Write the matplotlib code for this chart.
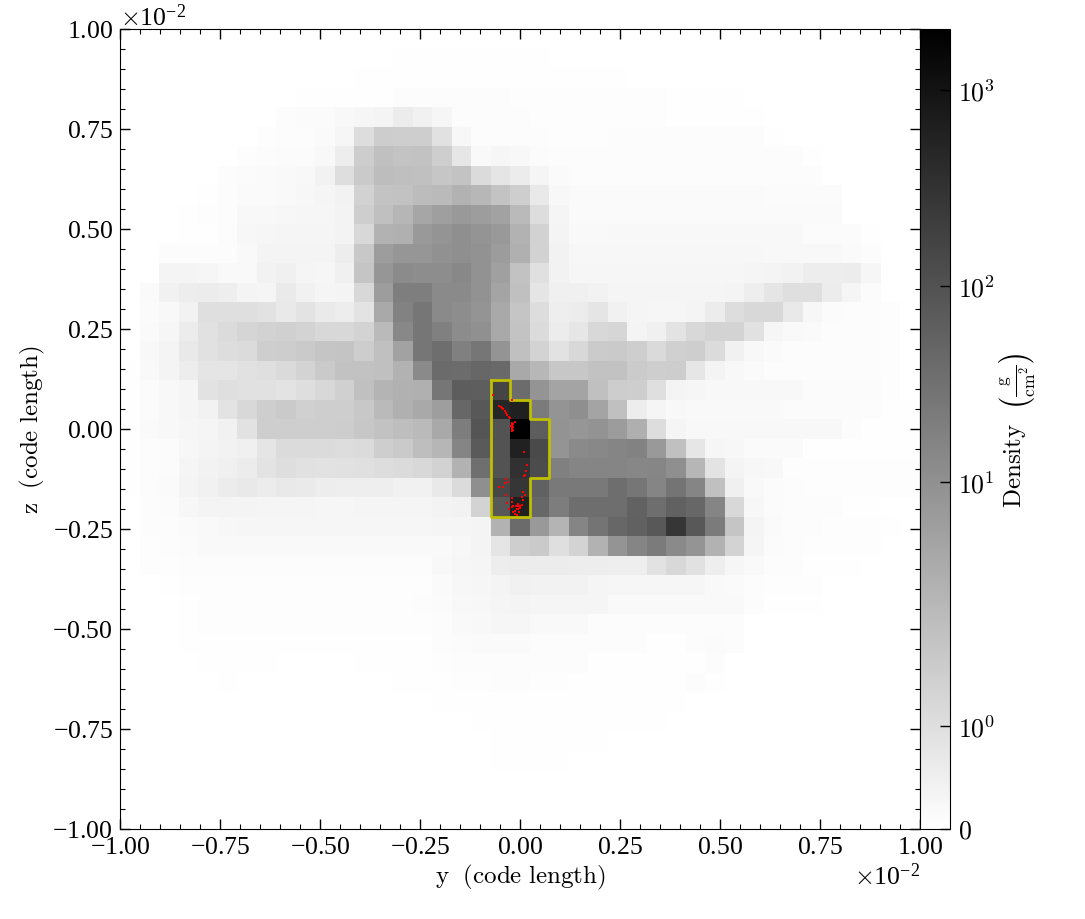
"""Projected gas density slice with a selected clump outline and sink particles."""

import numpy as np
import matplotlib
matplotlib.use("Agg")
import matplotlib.pyplot as plt
from matplotlib.colors import SymLogNorm
from matplotlib.ticker import FixedLocator, ScalarFormatter

plt.rcParams["font.family"] = ["Liberation Serif", "DejaVu Serif"]
plt.rcParams["mathtext.fontset"] = "cm"
plt.rcParams["axes.formatter.use_mathtext"] = True

# density per cell (g/cm^2), rows from z=+1 down to z=-1, columns from y=-1 to y=+1
density_rows = [
    [0,0,0,0,0,0,0,0,0,0,0,0,0,0,0,0,0,.02,.02,.02,.02,.02,0,0,0,0,0,0,0,0,0,0,0,0,0,0,0,0,0,0,0],
    [0,0,0,0,0,0,0,0,0,0,0,0,0,0,.04,.04,.04,.04,.04,.04,.04,.04,.03,.03,.03,.03,0,0,0,0,0,0,0,0,0,0,0,0,0,0,0],
    [0,0,0,0,0,0,0,0,0,0,0,0,.06,.06,.06,.06,.06,.06,.06,.06,.06,.06,.06,.06,.06,.06,.03,.03,.03,.03,0,0,0,0,0,0,0,0,0,0,0],
    [0,0,0,0,0,0,0,0,0,.06,.06,.06,.06,.06,.1,.1,.1,.1,.1,.1,.08,.08,.08,.08,.08,.08,.08,.08,.04,.04,.04,.04,0,0,0,0,0,0,0,0,0],
    [0,0,0,0,0,0,0,0,.12,.15,.15,.24,.28,.36,.6,.45,.28,.12,.1,.1,.1,.08,.08,.08,.08,.08,.08,.08,.06,.06,.06,.06,.04,0,0,0,0,0,0,0,0],
    [0,0,0,0,0,0,0,.08,.12,.12,.17,.28,1.04,1.54,1.51,1.51,.91,.26,.12,.12,.12,.1,.08,.08,.08,.1,.1,.1,.1,.1,.1,.1,.1,.04,0,0,0,0,0,0,0],
    [0,0,0,0,0,0,.08,.1,.15,.15,.24,.55,1.54,1.93,1.84,1.87,1.51,.76,.21,.28,.24,.15,.1,.1,.1,.1,.1,.1,.1,.1,.1,.1,.1,.1,.1,.04,0,0,0,0,0],
    [0,0,0,0,0,.1,.15,.17,.21,.24,.4,1.01,1.63,2.02,1.96,1.93,1.75,1.84,1.1,.8,.6,.31,.17,.12,.12,.12,.12,.12,.12,.12,.12,.12,.12,.12,.12,.12,0,0,0,0,0],
    [0,0,0,0,.06,.1,.17,.17,.21,.26,.33,.4,1.39,1.84,1.87,2.05,2.2,2.95,2.45,1.84,1.49,.68,.24,.17,.17,.17,.17,.17,.17,.17,.17,.17,.17,.15,.15,.15,.15,0,0,0,0],
    [0,0,0,.04,.08,.12,.24,.24,.26,.28,.28,.38,1.49,1.93,2.55,4.6,5.8,7.2,6.4,5.2,2.2,1.04,.31,.17,.17,.17,.17,.17,.17,.17,.17,.17,.17,.17,.17,.17,.17,0,0,0,0],
    [0,0,0,.04,.06,.12,.26,.28,.31,.31,.31,.38,1.19,2.95,3.15,7.2,8.6,10.4,8.6,7.2,2.95,1.39,.36,.21,.21,.24,.24,.24,.24,.24,.24,.24,.24,.24,.24,.15,.15,.15,.04,0,0],
    [0,0,.1,.12,.12,.1,.21,.36,.36,.36,.36,.55,1.69,6.4,8,8,9.6,10.4,9.3,6.6,3.15,1.39,.4,.26,.26,.26,.26,.26,.26,.26,.26,.26,.26,.24,.24,.24,.24,.17,.12,0,0],
    [0,0,.36,.36,.28,.21,.21,.4,.47,.31,.28,.47,1.78,8,12,11.2,11.2,13.4,9.3,5.6,1.85,.95,.4,.28,.28,.28,.28,.28,.28,.28,.28,.28,.33,.36,.4,.55,.55,.6,.28,0,0],
    [0,.17,.45,.55,.6,.52,.36,.33,.64,.45,.33,.36,1.19,6.4,19.4,19.4,12.5,12.5,9.3,4.8,1.93,.8,.47,.47,.4,.33,.33,.33,.31,.31,.31,.36,.52,.8,.98,.98,.6,.31,.15,0,0],
    [0,.15,.24,.4,.98,.98,.98,.88,.68,.85,.64,.55,.85,4,16.7,26,12.5,11.2,8.6,4,1.76,1.04,.52,.6,.8,.45,.31,.28,.28,.36,.6,1.04,1.19,1.21,.68,.26,.15,.1,.1,.08,0],
    [0,.17,.28,.6,.91,1.1,1.28,1.39,1.45,1.34,1.21,1.21,1.34,2.2,13.4,26,18,11.6,10,4,1.84,1.1,.6,.76,1.19,1.25,.36,.47,.85,1.19,1.34,1.34,.91,.28,.21,.17,.1,.1,.1,.08,0],
    [0,.24,.36,.68,.91,1.04,1.1,1.49,1.54,1.63,1.78,1.81,1.54,1.93,5.2,26,35,18,26,8.6,1.93,1.34,.88,1.21,1.58,1.63,1.49,1.15,1.45,1.49,1.1,.45,.24,.17,.12,.12,.12,.12,.12,.08,0],
    [.06,.21,.36,.55,.8,.8,.91,.98,1.13,1.34,1.63,1.87,1.87,1.93,2.95,12.5,40,37.5,45,42,4,2.45,1.72,1.72,1.87,1.87,1.58,1.49,1.54,.76,.36,.24,.17,.12,.12,.12,.12,.12,.12,.08,0],
    [.06,.15,.24,.33,.88,.98,.91,.91,.85,1.01,1.19,1.45,1.93,2.75,3.05,3.15,26,65,63,162,37.5,8.6,4.8,4.8,1.93,1.54,1.49,.98,.36,.28,.24,.24,.24,.24,.24,.15,.15,.15,.15,.08,0],
    [.06,.15,.24,.31,.4,.85,1.21,1.51,1.63,1.45,1.49,1.51,1.69,2.2,3.15,4,6,45,78,490,630,21.6,8.6,10.4,4.8,1.93,.55,.31,.24,.21,.21,.21,.21,.21,.15,.15,.15,.15,.1,.06,.06],
    [.06,.17,.24,.28,.33,.45,.88,1.51,1.51,1.49,1.49,1.54,1.72,1.87,1.99,2.2,4,20,90,94,2040,65,9,8,9,6.5,3.2,1.05,.31,.24,.24,.24,.24,.24,.24,.24,.24,.1,.04,.04,.04],
    [.06,.12,.15,.26,.36,.4,.47,.8,1.1,1.1,1.1,1.06,1.1,1.49,1.63,1.99,2.55,15,73,94,590,135,8.6,12.5,13.4,15,16.7,7.2,1.93,.76,.28,.26,.17,.17,.17,.06,.06,.06,.06,.06,.06],
    [.06,.1,.15,.33,.4,.47,.6,.85,1.01,.91,.88,.91,.95,1.04,1.1,1.19,1.39,2.95,34,94,338,121,18,15,15,15,14,14.5,10.4,2.55,.85,.36,.26,.24,.08,.08,.08,.08,.08,.08,.08],
    [.04,.1,.17,.36,.45,.6,.68,.6,.68,.64,.55,.52,.52,.52,.45,.43,.68,1.1,10.4,150,280,58,24,24,24,35,26,15,28,15,1.93,.47,.21,.15,.1,.08,.08,.08,.08,.08,.08],
    [0,.1,.15,.26,.36,.36,.36,.33,.31,.31,.28,.28,.33,.33,.33,.33,.38,.4,1.34,78,630,45,20,35,35,35,54,35,58,45,15,1.19,.26,.15,.1,.1,.1,.04,.04,.03,0],
    [0,.1,.12,.17,.21,.26,.28,.28,.28,.28,.28,.28,.28,.28,.28,.28,.31,.33,.36,2.95,40,7.2,2.75,15,28,45,58,78,281,78,21.6,1.78,.36,.17,.12,.12,.08,.08,.08,.06,0],
    [0,.08,.1,.15,.21,.21,.21,.21,.21,.21,.21,.21,.21,.21,.21,.21,.21,.26,.36,.8,1.49,1.63,.98,1.34,2.95,8.6,15,21.6,12.5,8.6,2.95,1.34,.33,.15,.1,.08,.08,.08,.08,.02,0],
    [0,.08,.08,.1,.11,.11,.11,.11,.11,.11,.11,.11,.11,.11,.11,.11,.24,.28,.31,.55,.6,.6,.6,.55,.55,.52,.52,.88,1.19,.91,.52,.28,.21,.12,.1,.04,.04,.04,0,0,0],
    [0,0,.06,.08,.08,.08,.08,.08,.08,.08,.08,.08,.08,.08,.08,.08,.17,.26,.28,.36,.43,.4,.4,.4,.33,.28,.28,.28,.28,.28,.21,.17,.12,.08,.08,.08,0,0,0,0,0],
    [0,0,0,.06,.07,.07,.07,.07,.07,.07,.07,.07,.07,.07,.07,.1,.15,.24,.26,.33,.36,.33,.33,.33,.33,.21,.21,.21,.21,.21,.21,.21,.1,.04,.04,.04,0,0,0,0,0],
    [0,0,0,.04,.08,.08,.08,.08,.08,.08,.08,.08,.08,.08,.08,.08,.12,.21,.24,.28,.28,.21,.21,.21,.12,.12,.12,.1,.1,.1,.1,.1,.02,0,0,0,0,0,0,0,0],
    [0,0,0,.04,.06,.06,.06,.05,.05,.05,.05,.05,.05,.05,.05,.05,.1,.15,.17,.17,.17,.12,.12,.12,.12,.12,.12,.06,.06,.1,.15,.12,0,0,0,0,0,0,0,0,0],
    [0,0,0,0,.04,.04,.04,.04,.02,.02,.02,.02,.04,.04,.04,.04,.08,.1,.12,.12,.12,.1,.1,.1,.06,.06,.06,.06,.06,.06,.1,0,0,0,0,0,0,0,0,0,0],
    [0,0,0,0,0,.06,.02,.02,.02,.02,.02,.02,.02,.02,.06,.06,.06,.08,.08,.1,.1,.08,.08,.06,.06,.06,.06,.06,.06,.1,.04,0,0,0,0,0,0,0,0,0,0],
    [0,0,0,0,0,0,0,0,0,0,0,0,0,0,0,.02,.04,.04,.04,.06,.06,.06,.06,.06,.06,.06,.06,.06,.06,0,0,0,0,0,0,0,0,0,0,0,0],
    [0,0,0,0,0,0,0,0,.02,.02,.02,.02,.02,.02,.02,.02,.02,.02,.06,.06,.06,.04,.04,.04,.04,.04,.04,.04,0,0,0,0,0,0,0,0,0,0,0,0,0],
    [0,0,0,0,0,0,0,0,0,0,.02,.02,.02,.02,.02,.02,.02,.02,.02,.04,.04,.06,.06,.06,.06,0,0,0,0,0,0,0,0,0,0,0,0,0,0,0,0],
    [0,0,0,0,0,0,0,0,0,0,0,0,0,0,0,0,0,0,0,.04,.04,.04,.04,0,0,0,0,0,0,0,0,0,0,0,0,0,0,0,0,0,0],
    [0,0,0,0,0,0,0,0,0,0,0,0,0,0,0,.02,.02,.02,.02,.02,.02,.02,0,0,0,0,0,0,0,0,0,0,0,0,0,0,0,0,0,0,0],
    [0,0,0,0,0,0,0,0,0,0,0,0,0,0,0,0,0,0,0,0,0,0,0,0,0,0,0,0,0,0,0,0,0,0,0,0,0,0,0,0,0],
    [0,0,0,0,0,0,0,0,0,0,0,0,0,0,0,0,0,0,0,0,0,0,0,0,0,0,0,0,0,0,0,0,0,0,0,0,0,0,0,0,0],
]

# clump outline, as indices into the cell edges
outline_cols = [19, 20, 20, 21, 21, 22, 22, 21, 21, 19, 19]
outline_rows = [18, 18, 19, 19, 20, 20, 23, 23, 25, 25, 18]

# sink particle positions (units of 1e-2)
particle_y = [-.068, -.020, -.052, -.048, -.045, -.042, -.038, -.035, -.032, -.028, -.025,
              -.021, -.021, -.021, -.021, -.021, -.018, -.018, -.018, -.023, -.0125,
              .011, .017, .015, .013, .010,
              -.035, -.038, -.029, -.042, -.052, -.035, .008, .0125, -.021, -.021, -.032,
              -.017, -.027, -.021, -.0125, -.008, -.004, 0, .004, .007, .004, -.018,
              -.0125, -.008, -.002, -.010, -.006, -.004, 0]
particle_z = [.086, .073, .058, .056, .053, .050, .045, .039, .035, .031, .027,
              .015, .010, .005, 0, -.005, .0125, .004, -.003, .008, .017,
              -.057, -.090, -.104, -.115, -.118,
              -.125, -.135, -.132, -.145, -.145, -.165, -.157, -.165, -.173, -.182, -.186,
              -.192, -.200, -.196, -.204, -.200, -.193, -.192, -.190, -.177, -.171, -.208,
              -.2125, -.215, -.207, -.193, -.1875, -.200, -.198]

cbar_ticks = [0, 1, 10, 100, 1000]
cbar_labels = ["$0$", "$10^{0}$", "$10^{1}$", "$10^{2}$", "$10^{3}$"]
tick_values = [-0.01, -0.0075, -0.005, -0.0025, 0, 0.0025, 0.005, 0.0075, 0.01]

density = np.array(density_rows, dtype=float)
y_edges = np.linspace(-0.01, 0.01, density.shape[1] + 1)
z_edges = np.linspace(0.01, -0.01, density.shape[0] + 1)

fig = plt.figure(figsize=(10.85, 9.2), dpi=100)
ax = fig.add_axes([120 / 1085, 1 - 830 / 920, 800 / 1085, 800 / 920])
cax = fig.add_axes([920 / 1085, 1 - 830 / 920, 30 / 1085, 800 / 920])

norm = SymLogNorm(linthresh=2.07, linscale=0.98, vmin=0, vmax=2047, base=10)
mesh = ax.pcolormesh(y_edges, z_edges, density, cmap="gray_r", norm=norm, linewidth=0, rasterized=True)

ax.plot(y_edges[outline_cols], z_edges[outline_rows], color="y", lw=2.0, solid_joinstyle="round")
ax.scatter(np.array(particle_y) * 0.01, np.array(particle_z) * 0.01, s=4, c="red", marker="s", linewidths=0, zorder=3)

ax.set_xlim(-0.01, 0.01)
ax.set_ylim(-0.01, 0.01)
ax.xaxis.set_major_locator(FixedLocator(tick_values))
ax.yaxis.set_major_locator(FixedLocator(tick_values))
ax.xaxis.set_minor_locator(FixedLocator(np.arange(-20, 21) * 0.0005))
ax.yaxis.set_minor_locator(FixedLocator(np.arange(-20, 21) * 0.0005))
for axis in (ax.xaxis, ax.yaxis):
    fmt = ScalarFormatter(useMathText=True)
    fmt.set_powerlimits((-2, -2))
    axis.set_major_formatter(fmt)
    axis.get_offset_text().set_fontsize(18.5)
ax.tick_params(which="major", direction="in", top=True, right=True, length=7, width=1, labelsize=18.5, pad=5)
ax.tick_params(which="minor", direction="in", top=True, right=True, length=3.5, width=0.8)
ax.set_xlabel(r"$\mathrm{y}\ \ (\mathrm{code\ length})$", fontsize=18, labelpad=3)
ax.set_ylabel(r"$\mathrm{z}\ \ (\mathrm{code\ length})$", fontsize=18, labelpad=4)

cbar = fig.colorbar(mesh, cax=cax)
cbar.set_ticks(cbar_ticks, labels=cbar_labels)
cbar.ax.minorticks_off()
cbar.ax.tick_params(which="major", direction="in", length=7, width=1, labelsize=18.5, pad=6)
cbar.set_label(r"$\mathrm{Density}\ \ \left(\frac{\mathrm{g}}{\mathrm{cm}^{2}}\right)$", fontsize=18, labelpad=1)

fig.savefig("out.png", dpi=100)
